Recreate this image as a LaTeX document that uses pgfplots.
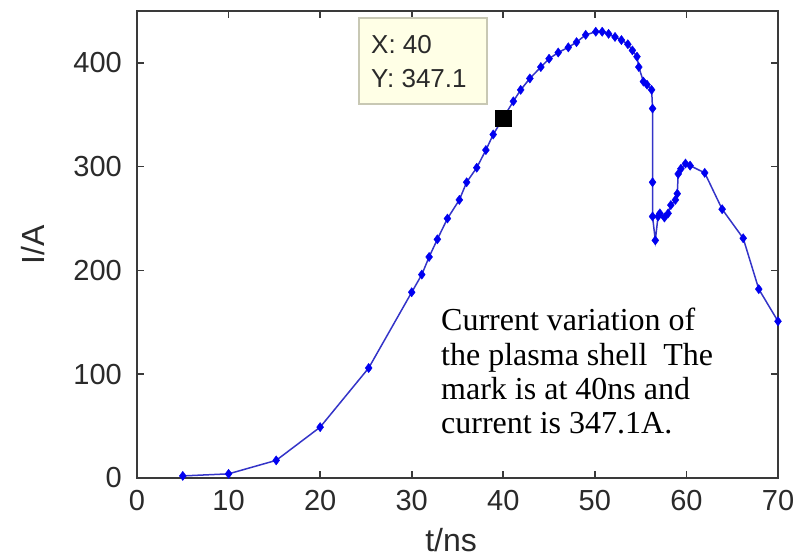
\documentclass[border=0pt]{standalone}
\usepackage{fontspec}
\setmainfont{Liberation Serif}
\newfontfamily\arial{Liberation Sans}
\usepackage{pgfplots}
\pgfplotsset{compat=1.18}
\definecolor{framec}{HTML}{3A3A3A}
\definecolor{txtc}{HTML}{2A2A2A}
\definecolor{linec}{HTML}{3434C8}
\definecolor{markc}{HTML}{0000F0}
\definecolor{tipfill}{HTML}{FFFFE6}
\definecolor{tipdraw}{HTML}{C8C8B4}
\begin{document}
\begin{tikzpicture}
\useasboundingbox (0,0) rectangle (799pt,557pt);
\begin{axis}[
  at={(137pt,79pt)}, anchor=south west,
  scale only axis, width=641pt, height=467pt,
  xmin=0, xmax=70, ymin=0, ymax=450,
  xtick={0,10,...,70}, ytick={0,100,...,400},
  tick align=inside, major tick length=7pt,
  xtick pos=both, ytick pos=both,
  axis line style={framec, line width=1.8pt},
  every tick/.style={framec, line width=1.6pt},
  /pgf/number format/assume math mode=true,
  ticklabel style={font=\arial\fontsize{29}{29}\selectfont, text=txtc},
  xticklabel style={inner sep=0pt, anchor=north, yshift=-12pt},
  yticklabel style={inner sep=0pt, anchor=east, xshift=-15pt},
  xlabel={t/ns}, ylabel={I/A},
  label style={font=\arial\fontsize{32}{32}\selectfont, text=txtc},
  xlabel style={at={(axis description cs:0.49,-0.108)}, anchor=north, inner sep=0pt},
  ylabel style={at={(axis description cs:-0.143,0.5)}, anchor=south, inner sep=0pt},
  clip=false,
]
\addplot[color=linec, line width=1.5pt, mark=diamond*, mark size=4.6pt,
  mark options={fill=markc, draw=markc, line width=0.4pt}] coordinates {
(5,2) (10,4) (15.2,17) (20,49) (25.3,106) (30,179) (31.1,196) (31.9,213)
(32.8,230) (33.9,250) (35.2,268) (36,285) (37.1,299) (38.1,316) (38.9,331)
(40,347.1) (41.1,363) (41.9,374) (42.9,385) (44.1,396) (45,404) (46,410)
(47.1,415) (48,420) (49,427) (50.1,430) (50.8,430) (51.5,428) (52.2,425)
(52.9,422) (53.6,418) (54.1,412) (54.6,406) (54.8,396) (55.3,382) (55.7,379)
(56.2,374) (56.3,356) (56.3,285) (56.3,252) (56.6,229) (56.9,252) (57.1,255)
(57.6,251) (58,255) (58.3,263) (58.8,268) (59,274) (59.1,293) (59.4,298)
(59.9,303) (60.4,301) (62,294) (63.9,259) (66.2,231) (67.9,182) (70,151)
};
\addplot[only marks, mark=square*, mark size=8pt, mark options={fill=black, draw=black}] coordinates {(40,347.1)};
\end{axis}
% data tip box (pixel coordinates: y = 557 - pixel)
\draw[fill=tipfill, draw=tipdraw, line width=1.2pt] (359pt,453pt) rectangle (487pt,539pt);
\node[anchor=base west, inner sep=0pt, font=\arial\fontsize{26}{26}\selectfont, text=txtc] at (371pt,503pt) {X: 40};
\node[anchor=base west, inner sep=0pt, font=\arial\fontsize{26}{26}\selectfont, text=txtc] at (371pt,469pt) {Y: 347.1};
% annotation text
\begin{scope}[every node/.style={anchor=base west, inner sep=0pt, font=\fontsize{32}{32}\selectfont}]
\node at (441pt,226pt) {Current variation of};
\node at (441pt,192pt) {the plasma shell\ \ The};
\node at (441pt,158pt) {mark is at 40ns and};
\node at (441pt,124pt) {current is 347.1A.};
\end{scope}
\end{tikzpicture}
\end{document}
